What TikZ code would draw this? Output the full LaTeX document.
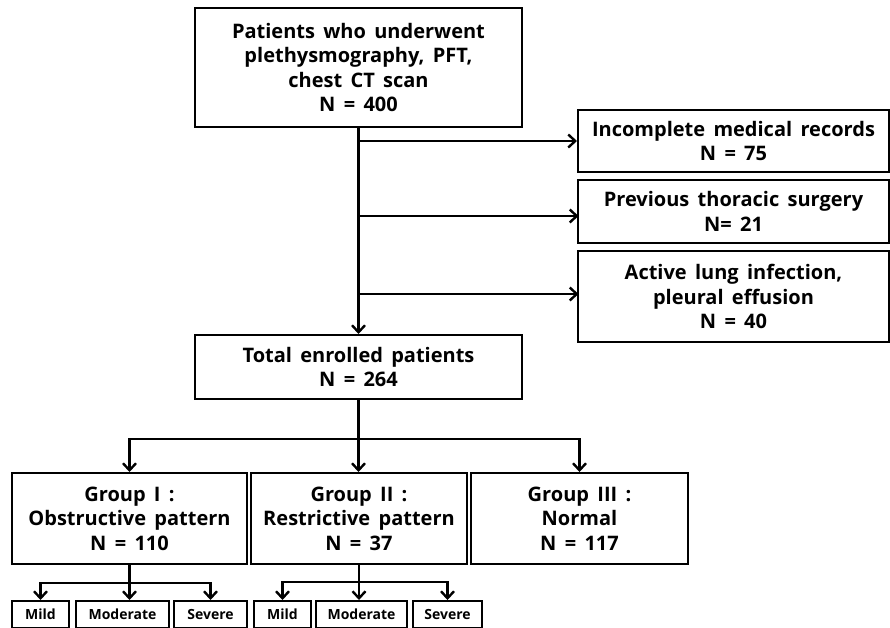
\documentclass[tikz,border=0pt]{standalone}
\usepackage{fontspec}
\setmainfont{Open Sans}[WordSpace=1.6]
\usepackage{tikz}
\usetikzlibrary{arrows.meta, positioning}

\begin{document}
\begin{tikzpicture}[
      x=1pt, y=-1pt,
      box/.style={
         draw,
         line width=2pt,
         inner sep=0pt,
         align=center,
         font=\fontsize{20}{24.5}\selectfont\bfseries
      },
      subbox/.style={
         box,
         minimum height=27pt,
         font=\fontsize{14}{16}\selectfont\bfseries
      },
      link/.style={
         line width=2.4pt,
         -{Straight Barb[length=7pt, width=13pt, line width=2.4pt]}
      }
   ]

   \useasboundingbox (0,0) rectangle (890,627);

   \node[box, minimum width=327pt, minimum height=119pt] (screened) at (358.5,67.5)
      {Patients who underwent\\plethysmography,\ PFT,\\chest CT scan\\N = 400};
   \node[box, minimum width=311pt, minimum height=62pt] (records) at (733.5,141)
      {Incomplete medical records\\N = 75};
   \node[box, minimum width=311pt, minimum height=63pt] (surgery) at (733.5,211.5)
      {Previous thoracic surgery\\N= 21};
   \node[box, minimum width=311pt, minimum height=91pt] (infection) at (733.5,296.5)
      {Active lung infection,\\pleural effusion\\N = 40};
   \node[box, minimum width=327pt, minimum height=64pt] (enrolled) at (358.5,367)
      {Total enrolled patients\\N = 264};

   \node[box, minimum width=235pt, minimum height=91pt] (obstructive) at (129.5,518.5)
      {Group I :\\Obstructive pattern\\N = 110};
   \node[box, minimum width=216pt, minimum height=91pt] (restrictive) at (359,518.5)
      {Group II :\\Restrictive pattern\\N = 37};
   \node[box, minimum width=217pt, minimum height=91pt] (normal) at (579.5,518.5)
      {Group III :\\Normal\\N = 117};

   \node[subbox, minimum width=57pt] (mildA) at (40.5,614.5) {Mild};
   \node[subbox, minimum width=93pt] (moderateA) at (122.5,614.5) {Moderate};
   \node[subbox, minimum width=73pt] (severeA) at (210.5,614.5) {Severe};
   \node[subbox, minimum width=57pt] (mildB) at (282.5,614.5) {Mild};
   \node[subbox, minimum width=91pt] (moderateB) at (361.5,614.5) {Moderate};
   \node[subbox, minimum width=69pt] (severeB) at (447.5,614.5) {Severe};

   \draw[link] (screened.south) -- (enrolled.north);
   \draw[link] (screened.south |- records.west) -- (records.west);
   \draw[link] (screened.south |- surgery.west) ++(0,4.5) -- ++(220,0);
   \draw[link] (screened.south |- infection.west) ++(0,-2.5) -- ++(220,0);

   \coordinate (split) at (enrolled.south |- 0,439);
   \draw[line width=2.4pt] (enrolled.south) -- (split);
   \draw[link] (split) -| (obstructive.north);
   \draw[link] (split) -| (normal.north);
   \draw[link] (split) -- (split |- restrictive.north);

   \coordinate (splitA) at (obstructive.south |- 0,583);
   \draw[line width=2.4pt] (obstructive.south) -- (splitA);
   \draw[link] (splitA) -| (mildA.north);
   \draw[link] (splitA) -| (severeA.north);
   \draw[link] (splitA) -- (splitA |- moderateA.north);

   \coordinate (splitB) at (restrictive.south |- 0,582);
   \draw[line width=2.4pt] (restrictive.south) -- (splitB);
   \draw[link] (splitB) -| (mildB.north);
   \draw[link] (splitB) -| (severeB.north);
   \draw[link] (splitB) -- (splitB |- moderateB.north);
\end{tikzpicture}
\end{document}
